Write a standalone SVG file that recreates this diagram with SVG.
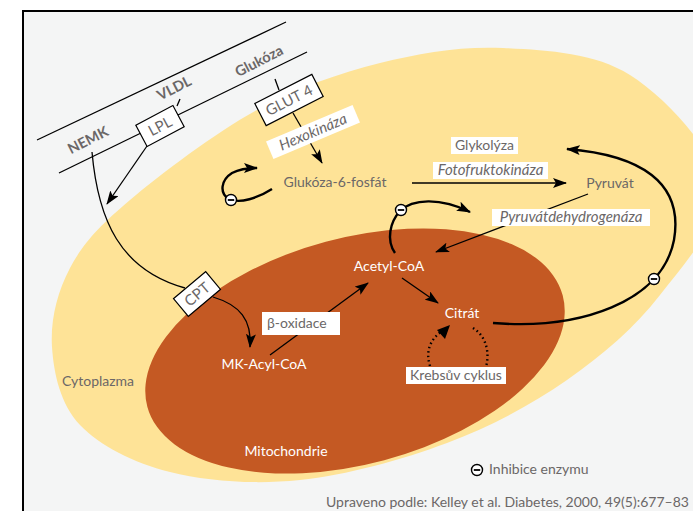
<svg xmlns="http://www.w3.org/2000/svg" width="693" height="511" viewBox="0 0 693 511">
<style>
.t{font-family:Lato,"Open Sans","Liberation Sans",sans-serif;font-size:14px;fill:#6b6767}
.w{fill:#ffffff}
.i{font-style:italic;font-size:15px}
.b{font-weight:bold;font-size:14.5px}
.bx{font-size:15px}
.ln{fill:none;stroke:#000;stroke-width:1.3}
.th{fill:none;stroke:#000;stroke-width:2.4}
.box{fill:#fff;stroke:#000;stroke-width:1.2}
.lab{fill:#fff}
</style>
<defs>
<marker id="ah" viewBox="0 0 14 10" refX="13" refY="5" markerWidth="14" markerHeight="10" markerUnits="userSpaceOnUse" orient="auto">
<path d="M0,0 L14,5 L0,10 L3,5 z" fill="#000"/>
</marker>
<g id="inh"><circle r="5.5" fill="#fff" stroke="#000" stroke-width="1.4"/><line x1="-3.2" x2="3.2" y1="0" y2="0" stroke="#000" stroke-width="1.8"/></g>
</defs>
<rect x="0" y="0" width="693" height="511" fill="#fff"/>
<rect x="23" y="11" width="700" height="530" fill="#f4f5f5" stroke="#000" stroke-width="2"/>
<g id="cytoplazma">
<path fill="#fee397" d="M52,347 C50.3,320.8 57,292.5 70,268 C83,243.5 98.8,226.3 130,200 C161.2,173.7 215.3,132.8 257,110 C298.7,87.2 339,73.3 380,63 C421,52.7 461.3,46 503,48 C544.7,50 594.2,52.2 630,75 C665.8,97.8 713,148.3 718,185 C723,221.7 685.2,262.5 660,295 C634.8,327.5 602.5,355.3 567,380 C531.5,404.7 491.5,426.3 447,443 C402.5,459.7 346.2,475.2 300,480 C253.8,484.8 206.7,481.2 170,472 C133.3,462.8 99.7,445.8 80,425 C60.3,404.2 53.7,373.2 52,347 Z"/>
<text class="t" x="98" y="386" text-anchor="middle">Cytoplazma</text>
</g>
<g id="mitochondrie">
<ellipse fill="#c45923" cx="355" cy="351" rx="215" ry="113" transform="rotate(-15 355 351)"/>
<text class="t w" x="286" y="456" text-anchor="middle">Mitochondrie</text>
</g>
<g id="membrana">
<line class="ln" x1="37" y1="140" x2="286" y2="22"/>
<line class="ln" x1="59" y1="173" x2="307" y2="52"/>
<text class="t b" transform="translate(88,140) rotate(-27)" text-anchor="middle" dy="0.35em">NEMK</text>
<text class="t b" transform="translate(174,88) rotate(-27)" text-anchor="middle" dy="0.35em">VLDL</text>
<text class="t b" transform="translate(259,61) rotate(-27)" text-anchor="middle" dy="0.35em">Glukóza</text>
</g>
<g id="connectors">
<path class="ln" d="M177,106 L180,99"/>
<path class="ln" d="M147,146 L107,204" marker-end="url(#ah)"/>
<path class="ln" d="M275,79 L279,90"/>
<path class="ln" d="M293,113 L322,163" marker-end="url(#ah)"/>
<path class="ln" d="M92,152 C98,220 120,270 185,288"/>
<path class="ln" d="M213,297 C240,305 252,320 250,347" marker-end="url(#ah)"/>
<path class="ln" d="M270,355 L368,283" marker-end="url(#ah)"/>
<path class="ln" d="M412,183 L566,183" marker-end="url(#ah)"/>
<path class="ln" d="M588,194 L436,252" marker-end="url(#ah)"/>
<path class="ln" d="M402,278 L438,303" marker-end="url(#ah)"/>
<path class="th" d="M272,189 C258,198 240,204 229,199 C219,193 221,180 232,173 C240,169 248,168 257,168" marker-end="url(#ah)"/>
<path class="th" d="M395,253 C386,240 390,222 400,211 C412,199 440,197 470,212" marker-end="url(#ah)"/>
<path class="th" d="M493,323 C580,330 662,302 674,240 C684,182 640,155 567,149" marker-end="url(#ah)"/>
<path fill="none" stroke="#000" stroke-width="2.4" stroke-dasharray="1.5,3" d="M430,366 C425,350 431,339 442,331"/>
<path d="M450,325 L437,330 L445,339 z" fill="#000"/>
<path fill="none" stroke="#000" stroke-width="2.4" stroke-dasharray="1.5,3" d="M473,328 C486,336 490,352 486,367"/>
<use href="#inh" x="231" y="200"/>
<use href="#inh" x="401" y="210"/>
<use href="#inh" x="654" y="279"/>
</g>
<g id="lpl" transform="translate(160,126) rotate(-28)">
<rect class="box" x="-21" y="-12" width="42" height="24"/>
<text class="t bx" x="0" y="5.5" text-anchor="middle">LPL</text>
</g>
<g id="glut4" transform="translate(289,100) rotate(-27)">
<rect class="box" x="-32" y="-12.5" width="64" height="25"/>
<text class="t bx" x="0" y="5.5" text-anchor="middle">GLUT 4</text>
</g>
<g id="hexokinaza" transform="translate(313,132) rotate(-23)">
<rect class="lab" x="-47" y="-9.5" width="94" height="19"/>
<text class="t i" x="0" y="5" text-anchor="middle">Hexokináza</text>
</g>
<g id="cpt" transform="translate(197,294) rotate(-40)">
<rect class="box" x="-21" y="-11.5" width="42" height="23"/>
<text class="t bx" x="0" y="5.5" text-anchor="middle">CPT</text>
</g>
<g id="g6p"><text class="t" x="335" y="187" text-anchor="middle">Glukóza-6-fosfát</text></g>
<g id="glykolyza"><rect class="lab" x="451" y="137" width="67" height="17"/><text class="t" x="484.5" y="150" text-anchor="middle">Glykolýza</text></g>
<g id="ffk"><rect class="lab" x="433" y="162" width="115" height="17"/><text class="t i" x="490.5" y="175" text-anchor="middle">Fotofruktokináza</text></g>
<g id="pyruvat"><text class="t" x="610" y="188" text-anchor="middle">Pyruvát</text></g>
<g id="pdh"><rect class="lab" x="492" y="209" width="158" height="17"/><text class="t i" x="571" y="222" text-anchor="middle">Pyruvátdehydrogenáza</text></g>
<g id="acetylcoa"><text class="t w" x="389" y="271" text-anchor="middle">Acetyl-CoA</text></g>
<g id="citrat"><text class="t w" x="462" y="318" text-anchor="middle">Citrát</text></g>
<g id="mkacyl"><text class="t w" x="264" y="369" text-anchor="middle">MK-Acyl-CoA</text></g>
<g id="boxidace"><rect class="lab" x="262" y="312" width="78" height="23"/><text class="t" x="267" y="328">β-oxidace</text></g>
<g id="krebs"><rect class="lab" x="406" y="367" width="100" height="17"/><text class="t" x="456" y="380" text-anchor="middle">Krebsův cyklus</text></g>
<g id="legenda"><use href="#inh" x="477" y="470"/><text class="t" x="489" y="474">Inhibice enzymu</text></g>
<g id="zdroj"><text class="t" x="326" y="507">Upraveno podle: Kelley et al. Diabetes, 2000, 49(5):677–83</text></g>
</svg>
